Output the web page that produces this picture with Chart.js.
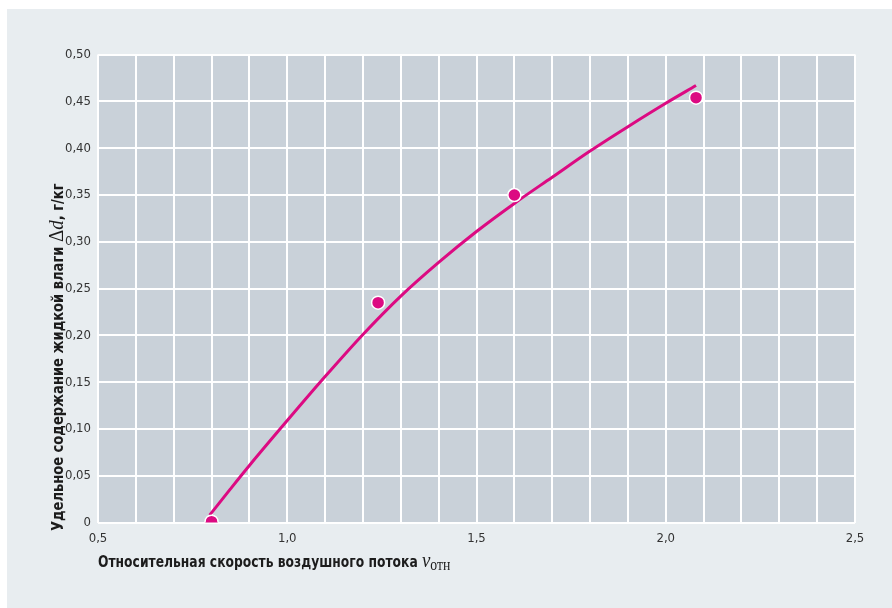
<!DOCTYPE html>
<html>
<head>
<meta charset="utf-8">
<script src="https://cdn.jsdelivr.net/npm/chart.js@4"></script>
<style>
html,body{margin:0;padding:0;background:#fff;}
canvas{display:block;}
</style>
</head>
<body>
<canvas id="c" width="892" height="608"></canvas>
<script>
// Measured points
const pointX = [0.80, 1.24, 1.60, 2.08];
const pointY = [0.001, 0.235, 0.350, 0.454];
// Fitted curve
const curveX = [0.795, 0.85, 0.90, 1.00, 1.10, 1.20, 1.30, 1.40, 1.50, 1.60, 1.70, 1.80, 1.90, 2.00, 2.08];
const curveY = [0.008, 0.036, 0.061, 0.109, 0.156, 0.201, 0.242, 0.278, 0.311, 0.341, 0.369, 0.397, 0.423, 0.448, 0.467];
// Axis ranges / ticks
const xMin = 0.5, xMax = 2.5, xGridStep = 0.1, xLabelStep = 0.5;
const yMin = 0, yMax = 0.5, yStep = 0.05;
const xTitleMain = 'Относительная скорость воздушного потока ';
const xTitleVar = 'v';
const xTitleSub = 'отн';
const yTitleMain = 'Удельное содержание жидкой влаги ';
const yTitleDelta = 'Δ';
const yTitleVar = 'd';
const yTitleUnit = ', г/кг';

const MAGENTA = '#dc0a82';
const NARROW = '"Liberation Sans Narrow", "DejaVu Sans Condensed", "Liberation Sans", sans-serif';
const SERIF = '"Liberation Serif", "DejaVu Serif", serif';

const curveData = curveX.map((x, i) => ({x, y: curveY[i]}));
const pointData = pointX.map((x, i) => ({x, y: pointY[i]}));

function fmt(v, d) { return v.toFixed(d).replace('.', ','); }

const bgPlugin = {
  id: 'bg',
  beforeDraw(chart) {
    const {ctx, chartArea: a} = chart;
    ctx.save();
    ctx.fillStyle = '#ffffff';
    ctx.fillRect(0, 0, chart.width, chart.height);
    ctx.fillStyle = '#e8edf0';
    ctx.fillRect(7, 9, chart.width - 7, chart.height - 9);
    ctx.fillStyle = '#c9d1d9';
    ctx.fillRect(a.left, a.top, a.right - a.left, a.bottom - a.top);
    ctx.restore();
  }
};

function drawSegments(ctx, segs, targetMainWidth) {
  ctx.font = segs[0].font;
  const sx = targetMainWidth / ctx.measureText(segs[0].text).width;
  ctx.scale(sx, 1);
  let x = 0;
  for (const s of segs) {
    ctx.font = s.font;
    ctx.fillText(s.text, x, s.dy || 0);
    x += ctx.measureText(s.text).width;
  }
}

const titlePlugin = {
  id: 'titles',
  afterDraw(chart) {
    const {ctx, chartArea: a} = chart;
    ctx.save();
    ctx.fillStyle = '#1c1c1c';
    ctx.textBaseline = 'alphabetic';
    ctx.textAlign = 'left';
    // X title
    ctx.save();
    ctx.translate(a.left, a.bottom + 44.5);
    drawSegments(ctx, [
      {text: xTitleMain, font: 'bold 16px ' + NARROW},
      {text: xTitleVar, font: 'italic 22px ' + SERIF},
      {text: xTitleSub, font: '16px ' + SERIF, dy: 3}
    ], 324);
    ctx.restore();
    // Y title
    ctx.save();
    ctx.translate(63, a.bottom + 8.5);
    ctx.rotate(-Math.PI / 2);
    drawSegments(ctx, [
      {text: yTitleMain, font: 'bold 16px ' + NARROW},
      {text: yTitleDelta, font: '21px ' + SERIF},
      {text: yTitleVar, font: 'italic 21px ' + SERIF},
      {text: yTitleUnit, font: 'bold 16px ' + NARROW}
    ], 289);
    ctx.restore();
    ctx.restore();
  }
};

new Chart(document.getElementById('c'), {
  type: 'scatter',
  data: {
    datasets: [
      {
        type: 'line',
        data: curveData,
        borderColor: MAGENTA,
        borderWidth: 3,
        pointRadius: 0,
        fill: false,
        cubicInterpolationMode: 'monotone',
        order: 2
      },
      {
        type: 'scatter',
        data: pointData,
        backgroundColor: MAGENTA,
        borderColor: '#ffffff',
        borderWidth: 1.5,
        pointRadius: 6.5,
        order: 1
      }
    ]
  },
  options: {
    responsive: false,
    animation: false,
    devicePixelRatio: 1,
    layout: {padding: {left: 0, top: 54.6, right: 37, bottom: 0}},
    plugins: {legend: {display: false}, tooltip: {enabled: false}},
    scales: {
      x: {
        type: 'linear',
        min: xMin, max: xMax,
        afterFit(s) { s.height = 85.4; },
        grid: {color: '#ffffff', lineWidth: 2, drawTicks: false},
        border: {display: false},
        ticks: {
          stepSize: xGridStep,
          padding: 8,
          autoSkip: false,
          maxRotation: 0,
          color: '#333333',
          font: {family: NARROW, size: 13},
          callback(v) {
            const r = v / xLabelStep;
            return Math.abs(r - Math.round(r)) < 1e-6 ? fmt(v, 1) : '';
          }
        }
      },
      y: {
        min: yMin, max: yMax,
        afterFit(s) { s.width = 98; },
        grid: {color: '#ffffff', lineWidth: 2, drawTicks: false},
        border: {display: false},
        ticks: {
          stepSize: yStep,
          padding: 7,
          color: '#333333',
          font: {family: NARROW, size: 13},
          callback(v) { return Math.abs(v) < 1e-9 ? '0' : fmt(v, 2); }
        }
      }
    }
  },
  plugins: [bgPlugin, titlePlugin]
});
</script>
</body>
</html>
